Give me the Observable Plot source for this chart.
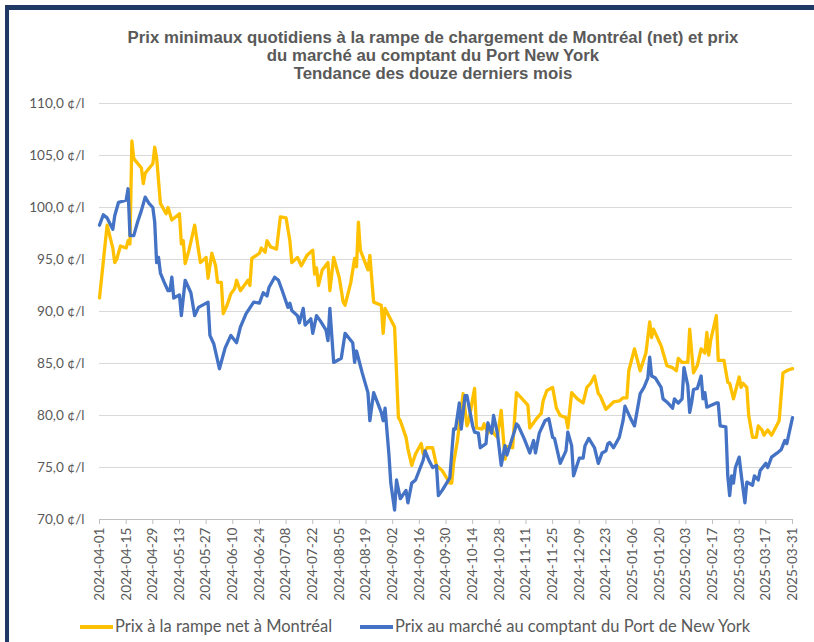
<!DOCTYPE html>
<html>
<head>
<meta charset="utf-8">
<script src="https://cdn.jsdelivr.net/npm/d3@7"></script>
<script src="https://cdn.jsdelivr.net/npm/@observablehq/plot@0.6"></script>
<style>
  html, body { margin: 0; padding: 0; background: #ffffff; }
  #frame { position: relative; width: 814px; height: 642px; overflow: hidden; background: #fff; }
  .bar { position: absolute; background: #1F3864; }
  #title { position: absolute; top: 29px; left: 0; width: 866px; text-align: center;
    font: bold 16.8px "Liberation Sans", Arial, sans-serif; line-height: 18px; color: #595959; }
  #chart { position: absolute; top: 90px; left: 0; }
  #legend { position: absolute; top: 616px; left: 0; width: 814px; height: 22px;
    font: 16.5px Lato, sans-serif; color: #595959; }
  .sw { position: absolute; top: 9px; width: 33px; height: 4px; }
  .lt { position: absolute; top: 0px; white-space: nowrap; }
</style>
</head>
<body>
<div id="frame">
  <div class="bar" style="left:5px; top:5px; width:809px; height:5px;"></div>
  <div class="bar" style="left:5px; top:5px; width:4px; height:637px;"></div>
  <div id="title">Prix minimaux quotidiens à la rampe de chargement de Montréal (net) et prix<br>du marché au comptant du Port New York<br>Tendance des douze derniers mois</div>
  <div id="chart"></div>
  <div id="legend">
    <div class="sw" style="left:80px; background:#FFC000;"></div>
    <div class="lt" style="left:115px;">Prix à la rampe net à Montréal</div>
    <div class="sw" style="left:360px; background:#4472C4;"></div>
    <div class="lt" style="left:395px;">Prix au marché au comptant du Port de New York</div>
  </div>
</div>
<script>
const seriesNames = ["Prix à la rampe net à Montréal", "Prix au marché au comptant du Port de New York"];

const montrealDates = ["2024-04-01","2024-04-05","2024-04-08","2024-04-09","2024-04-10","2024-04-12","2024-04-15","2024-04-16","2024-04-17","2024-04-18","2024-04-19","2024-04-23","2024-04-24","2024-04-25","2024-04-29","2024-04-30","2024-05-01","2024-05-03","2024-05-06","2024-05-07","2024-05-09","2024-05-13","2024-05-14","2024-05-15","2024-05-16","2024-05-18","2024-05-21","2024-05-24","2024-05-27","2024-05-28","2024-05-30","2024-06-01","2024-06-02","2024-06-04","2024-06-05","2024-06-07","2024-06-09","2024-06-11","2024-06-12","2024-06-14","2024-06-18","2024-06-19","2024-06-20","2024-06-24","2024-06-25","2024-06-27","2024-06-28","2024-06-30","2024-07-03","2024-07-05","2024-07-08","2024-07-10","2024-07-11","2024-07-14","2024-07-16","2024-07-19","2024-07-22","2024-07-23","2024-07-24","2024-07-25","2024-07-27","2024-07-30","2024-07-31","2024-08-02","2024-08-05","2024-08-07","2024-08-08","2024-08-11","2024-08-13","2024-08-14","2024-08-15","2024-08-16","2024-08-20","2024-08-21","2024-08-23","2024-08-27","2024-08-28","2024-08-29","2024-09-03","2024-09-05","2024-09-06","2024-09-09","2024-09-10","2024-09-12","2024-09-14","2024-09-17","2024-09-18","2024-09-20","2024-09-23","2024-09-25","2024-09-28","2024-10-02","2024-10-03","2024-10-04","2024-10-06","2024-10-09","2024-10-11","2024-10-12","2024-10-14","2024-10-15","2024-10-16","2024-10-19","2024-10-20","2024-10-22","2024-10-24","2024-10-25","2024-10-27","2024-10-29","2024-10-31","2024-11-01","2024-11-04","2024-11-06","2024-11-12","2024-11-13","2024-11-17","2024-11-19","2024-11-20","2024-11-22","2024-11-25","2024-11-27","2024-11-29","2024-12-02","2024-12-03","2024-12-05","2024-12-08","2024-12-11","2024-12-13","2024-12-15","2024-12-17","2024-12-19","2024-12-20","2024-12-23","2024-12-27","2024-12-30","2025-01-01","2025-01-03","2025-01-04","2025-01-07","2025-01-09","2025-01-10","2025-01-13","2025-01-15","2025-01-16","2025-01-17","2025-01-21","2025-01-24","2025-01-27","2025-01-29","2025-01-30","2025-02-01","2025-02-04","2025-02-05","2025-02-07","2025-02-09","2025-02-11","2025-02-13","2025-02-14","2025-02-15","2025-02-16","2025-02-19","2025-02-20","2025-02-23","2025-02-25","2025-02-26","2025-02-28","2025-03-03","2025-03-04","2025-03-05","2025-03-07","2025-03-08","2025-03-10","2025-03-12","2025-03-13","2025-03-15","2025-03-16","2025-03-18","2025-03-20","2025-03-22","2025-03-24","2025-03-26","2025-03-28","2025-03-29","2025-03-31"];
const montrealValues = [91.3,98.3,96.1,94.7,95.0,96.3,96.1,96.8,96.5,106.4,104.7,103.8,102.3,103.3,104.2,105.8,104.8,100.4,99.4,100.0,98.8,99.4,96.5,96.8,94.6,95.9,98.3,94.7,95.2,93.2,95.6,94.4,92.8,92.8,89.8,90.6,91.7,92.2,93.0,92.0,93.0,92.5,95.1,95.6,96.1,95.7,96.8,96.2,96.0,99.1,99.0,96.8,94.7,95.2,94.4,95.4,95.9,93.6,94.2,92.5,94.0,94.7,92.0,95.2,93.2,90.9,90.6,92.8,95.1,94.3,98.6,95.9,94.0,95.4,90.9,90.6,87.9,90.3,88.5,79.8,79.5,77.9,76.8,75.2,76.3,77.3,76.3,76.9,76.9,75.2,74.7,73.5,73.5,75.4,77.6,82.1,79.0,79.5,81.6,82.6,78.8,78.7,79.2,78.3,78.8,78.3,77.9,80.5,75.8,77.0,76.9,82.2,81.0,78.8,79.8,80.2,81.4,82.4,82.7,80.7,80.0,79.8,78.8,82.2,81.6,81.2,82.7,83.1,83.8,82.1,81.9,80.6,81.3,81.4,81.7,81.7,84.3,86.4,85.0,84.3,86.0,89.0,87.5,88.3,86.7,84.8,84.6,84.3,85.5,85.1,85.1,88.3,84.1,84.8,86.4,86.0,88.0,85.8,87.2,89.6,85.3,85.3,83.2,83.1,81.6,83.7,82.7,83.1,82.7,80.0,77.9,77.9,79.0,78.6,78.1,78.6,78.1,78.8,79.5,84.1,84.3,84.4,84.5];

const newYorkDates = ["2024-04-01","2024-04-03","2024-04-05","2024-04-08","2024-04-09","2024-04-11","2024-04-15","2024-04-16","2024-04-17","2024-04-19","2024-04-21","2024-04-23","2024-04-25","2024-04-27","2024-04-29","2024-04-30","2024-05-01","2024-05-02","2024-05-03","2024-05-05","2024-05-07","2024-05-08","2024-05-09","2024-05-10","2024-05-13","2024-05-14","2024-05-16","2024-05-19","2024-05-21","2024-05-23","2024-05-28","2024-05-29","2024-05-31","2024-06-03","2024-06-06","2024-06-09","2024-06-12","2024-06-14","2024-06-17","2024-06-21","2024-06-24","2024-06-26","2024-06-28","2024-06-29","2024-07-02","2024-07-04","2024-07-06","2024-07-09","2024-07-10","2024-07-11","2024-07-14","2024-07-15","2024-07-17","2024-07-18","2024-07-21","2024-07-22","2024-07-24","2024-07-26","2024-07-29","2024-07-30","2024-07-31","2024-08-02","2024-08-06","2024-08-08","2024-08-12","2024-08-13","2024-08-14","2024-08-17","2024-08-20","2024-08-21","2024-08-23","2024-08-27","2024-08-28","2024-08-29","2024-08-31","2024-09-01","2024-09-03","2024-09-04","2024-09-06","2024-09-09","2024-09-10","2024-09-12","2024-09-14","2024-09-18","2024-09-19","2024-09-21","2024-09-23","2024-09-25","2024-09-26","2024-09-28","2024-10-02","2024-10-04","2024-10-05","2024-10-07","2024-10-08","2024-10-10","2024-10-11","2024-10-14","2024-10-15","2024-10-17","2024-10-18","2024-10-21","2024-10-22","2024-10-24","2024-10-25","2024-10-27","2024-10-29","2024-10-31","2024-11-01","2024-11-05","2024-11-06","2024-11-07","2024-11-10","2024-11-13","2024-11-15","2024-11-16","2024-11-18","2024-11-21","2024-11-23","2024-11-25","2024-11-26","2024-11-29","2024-12-02","2024-12-03","2024-12-05","2024-12-06","2024-12-09","2024-12-11","2024-12-12","2024-12-14","2024-12-17","2024-12-19","2024-12-21","2024-12-23","2024-12-24","2024-12-25","2024-12-27","2024-12-30","2025-01-01","2025-01-02","2025-01-05","2025-01-07","2025-01-10","2025-01-12","2025-01-14","2025-01-15","2025-01-16","2025-01-18","2025-01-21","2025-01-22","2025-01-24","2025-01-27","2025-01-28","2025-01-30","2025-02-01","2025-02-02","2025-02-04","2025-02-05","2025-02-06","2025-02-07","2025-02-09","2025-02-11","2025-02-12","2025-02-13","2025-02-14","2025-02-19","2025-02-20","2025-02-21","2025-02-24","2025-02-25","2025-02-26","2025-02-27","2025-02-28","2025-03-01","2025-03-03","2025-03-04","2025-03-06","2025-03-07","2025-03-10","2025-03-11","2025-03-13","2025-03-14","2025-03-17","2025-03-18","2025-03-20","2025-03-23","2025-03-25","2025-03-27","2025-03-28","2025-03-31"];
const newYorkValues = [98.3,99.3,99.0,97.9,99.2,100.5,100.7,101.8,97.3,97.3,98.6,99.7,101.0,100.4,100.0,98.6,94.7,95.2,93.7,92.8,92.0,92.0,93.3,91.3,91.6,89.6,93.0,91.8,89.6,90.4,90.9,87.7,86.9,84.5,86.5,87.7,87.0,88.5,89.8,90.9,90.8,91.8,91.5,92.3,93.3,93.0,92.0,90.4,90.8,90.1,89.6,88.9,90.3,88.7,89.3,87.9,89.6,89.1,88.2,87.2,90.3,85.1,85.5,87.9,87.0,85.1,86.2,84.1,82.2,79.5,82.2,80.3,79.5,80.7,76.3,73.5,70.9,73.8,72.0,72.8,71.6,73.5,73.8,75.7,76.6,75.7,75.0,75.2,72.3,72.8,74.0,78.7,78.7,81.2,78.7,81.9,81.9,79.0,78.4,78.3,76.9,77.3,79.3,78.3,80.0,78.3,75.2,77.1,76.2,78.5,79.2,79.0,77.8,76.4,77.6,76.4,78.3,79.5,79.7,77.9,77.8,75.4,76.6,78.4,77.1,74.2,75.9,75.9,77.1,77.8,76.9,75.4,76.4,76.6,77.3,77.4,76.9,77.9,79.5,80.9,79.7,79.0,82.1,82.7,83.6,85.6,83.8,83.6,82.7,81.6,81.3,80.7,81.6,81.2,81.6,84.6,82.9,80.3,81.2,82.5,82.6,83.8,81.6,82.2,80.8,81.2,81.2,79.0,78.9,74.2,72.3,74.2,73.5,75.0,76.0,74.4,71.6,73.6,73.3,74.2,73.8,74.7,75.4,75.0,76.0,76.4,76.7,77.6,77.3,79.8];

const xTickLabels = ["2024-04-01","2024-04-15","2024-04-29","2024-05-13","2024-05-27","2024-06-10","2024-06-24","2024-07-08","2024-07-22","2024-08-05","2024-08-19","2024-09-02","2024-09-16","2024-09-30","2024-10-14","2024-10-28","2024-11-11","2024-11-25","2024-12-09","2024-12-23","2025-01-06","2025-01-20","2025-02-03","2025-02-17","2025-03-03","2025-03-17","2025-03-31"];
const yTicks = [70, 75, 80, 85, 90, 95, 100, 105, 110];

const parse = d3.utcParse("%Y-%m-%d");
const montreal = montrealDates.map((d, i) => ({date: parse(d), value: montrealValues[i], series: seriesNames[0]}));
const newYork = newYorkDates.map((d, i) => ({date: parse(d), value: newYorkValues[i], series: seriesNames[1]}));
const xTicks = xTickLabels.map(parse);
const fmtY = v => v.toFixed(1).replace(".", ",") + " ¢/l";

const chart = Plot.plot({
  width: 814,
  height: 514,
  marginLeft: 99,
  marginRight: 22,
  marginTop: 13,
  marginBottom: 85,
  style: {fontFamily: "Lato, sans-serif", fontSize: "13.6px", color: "#595959", background: "transparent", overflow: "visible"},
  x: {type: "utc", domain: [xTicks[0], xTicks[xTicks.length - 1]]},
  y: {domain: [70, 110]},
  marks: [
    Plot.ruleY(yTicks.filter(v => v > 70), {stroke: "#d9d9d9", strokeWidth: 1.2}),
    Plot.ruleY([70], {stroke: "#bfbfbf", strokeWidth: 1.2}),
    Plot.axisY({ticks: yTicks, tickFormat: fmtY, tickSize: 0, tickPadding: 15, label: null}),
    Plot.axisX({ticks: xTicks, tickFormat: d3.utcFormat("%Y-%m-%d"), tickRotate: -90, tickSize: 5, tickPadding: 3, label: null, stroke: "#bfbfbf"}),
    Plot.line(montreal, {x: "date", y: "value", stroke: "#FFC000", strokeWidth: 3.3, strokeLinejoin: "round"}),
    Plot.line(newYork, {x: "date", y: "value", stroke: "#4472C4", strokeWidth: 3.3, strokeLinejoin: "round"})
  ]
});
document.getElementById("chart").appendChild(chart);
</script>
</body>
</html>
